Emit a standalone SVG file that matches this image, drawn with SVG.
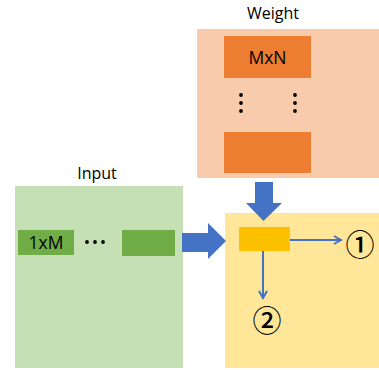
<svg xmlns="http://www.w3.org/2000/svg" width="379" height="370" viewBox="0 0 379 370">
<style>
.lbl{font-family:"Open Sans","Liberation Sans",sans-serif;font-size:16px;fill:#000;text-anchor:middle}
.big{font-size:17.5px}
.num{font-family:"Noto Sans CJK SC","Noto Sans CJK JP",sans-serif;font-size:29px;font-weight:500;fill:#000;text-anchor:middle}
.blue{fill:#4472C4}
.thin{stroke:#4472C4;stroke-width:2;fill:none}
.dot{fill:#000}
</style>
<defs>
<marker id="ah" markerWidth="10" markerHeight="10" refX="8" refY="5" orient="auto" markerUnits="userSpaceOnUse">
<path d="M1,1 L8,5 L1,9" fill="none" stroke="#4472C4" stroke-width="2"/>
</marker>
</defs>
<g id="weight">
<rect x="197" y="29" width="182" height="149" fill="#F8CBAD"/>
<text class="lbl" x="273" y="19">Weight</text>
<rect x="224" y="36" width="87" height="42" fill="#ED7D31"/>
<text class="lbl big" x="267.5" y="64">MxN</text>
<circle class="dot" cx="241" cy="95" r="1.9"/>
<circle class="dot" cx="241" cy="103" r="1.9"/>
<circle class="dot" cx="241" cy="111" r="1.9"/>
<circle class="dot" cx="295" cy="95" r="1.9"/>
<circle class="dot" cx="295" cy="103" r="1.9"/>
<circle class="dot" cx="295" cy="111" r="1.9"/>
<rect x="224" y="132" width="87" height="41" fill="#ED7D31"/>
</g>
<g id="input">
<rect x="15" y="186" width="168" height="182" fill="#C5E0B4"/>
<text class="lbl" x="97" y="179">Input</text>
<rect x="18" y="230" width="56" height="25" fill="#70AD47"/>
<text class="lbl big" x="46" y="248.5">1xM</text>
<circle class="dot" cx="87" cy="242" r="1.9"/>
<circle class="dot" cx="95" cy="242" r="1.9"/>
<circle class="dot" cx="103" cy="242" r="1.9"/>
<rect x="122" y="230" width="53" height="26" fill="#70AD47"/>
</g>
<g id="pe">
<rect x="225" y="213" width="154" height="155" fill="#FFE699"/>
<rect x="239" y="227" width="51" height="24" fill="#FFC000"/>
</g>
<g id="out1"><text class="num" x="360" y="256">①</text></g>
<g id="out2"><text class="num" x="267" y="332">②</text></g>
<g id="connectors">
<path class="blue" d="M255,182 H273 V203 H282 L263.5,221 L246,203 H255 Z"/>
<path class="blue" d="M182,233 H208 V223 L226,241 L208,259 V252 H182 Z"/>
<line class="thin" x1="290" y1="240" x2="341" y2="240" marker-end="url(#ah)"/>
<line class="thin" x1="263" y1="251" x2="263" y2="298" marker-end="url(#ah)"/>
</g>
</svg>
